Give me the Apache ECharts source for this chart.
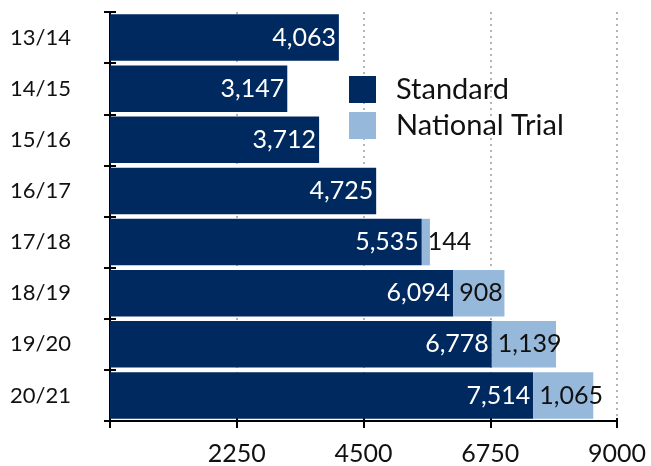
<!DOCTYPE html>
<html><head><meta charset="utf-8">
<script src="https://cdn.jsdelivr.net/npm/echarts@6/dist/echarts.min.js"></script>
<style>html,body{margin:0;padding:0;background:#fff}#c{width:651px;height:466px}</style>
</head><body><div id="c"></div>
<script>
const categories = ['13/14','14/15','15/16','16/17','17/18','18/19','19/20','20/21'];
const standard = [4063, 3147, 3712, 4725, 5535, 6094, 6778, 7514];
const nationalTrial = [null, null, null, null, 144, 908, 1139, 1065];
const xTicks = [2250, 4500, 6750, 9000];

const FONT = 'Lato, "Noto Sans", sans-serif';
const W = 400;
const DARK = '#002a5f';
const LIGHT = '#95b8db';
const fmt = v => v.toLocaleString('en-US');

const chart = echarts.init(document.getElementById('c'));
chart.setOption({
  animation: false,
  backgroundColor: '#fff',
  grid: { left: 110, right: 34, top: 12, bottom: 44, containLabel: false },
  legend: {
    orient: 'vertical', left: 349, top: 75, padding: 0,
    icon: 'rect',
    itemWidth: 27, itemHeight: 27, itemGap: 7,
    textStyle: { fontFamily: FONT, fontWeight: W, fontSize: 29, lineHeight: 27, color: '#111', padding: [0,0,0,15] },
    data: ['Standard', 'National Trial']
  },
  xAxis: [{
    type: 'value', min: 0, max: 9000, interval: xTicks[0],
    axisLine: { show: true, lineStyle: { color: '#000', width: 2 } },
    axisTick: { show: true, length: 7, lineStyle: { color: '#000', width: 2 } },
    axisLabel: { fontFamily: FONT, fontWeight: W, fontSize: 25, color: '#111', margin: 20,
      formatter: v => xTicks.includes(v) ? String(v) : '' },
    splitLine: { show: true, lineStyle: { color: '#b5b5b5', type: [2, 4], width: 2 } }
  }, {
    type: 'value', min: 0, max: 9000, interval: xTicks[0], position: 'bottom',
    axisLine: { show: false },
    axisTick: { show: true, inside: true, length: 3, lineStyle: { color: '#000', width: 2 } },
    axisLabel: { show: false }, splitLine: { show: false }
  }],
  yAxis: [{
    type: 'category', data: categories, inverse: true,
    axisLine: { show: true, lineStyle: { color: '#000', width: 2 } },
    axisTick: { show: true, length: 6, lineStyle: { color: '#000', width: 2 } },
    axisLabel: { fontFamily: FONT, fontWeight: W, fontSize: 22, color: '#111', margin: 39 },
  }, {
    type: 'category', data: categories, inverse: true, position: 'left',
    axisLine: { show: false },
    axisTick: { show: true, inside: true, length: 6, lineStyle: { color: '#000', width: 2 } },
    axisLabel: { show: false }
  }],
  series: [{
    name: 'Standard', type: 'bar', stack: 'total', data: standard,
    barCategoryGap: '9%',
    itemStyle: { color: DARK },
    label: { show: true, position: 'insideRight', distance: 3, color: '#fff',
      fontFamily: FONT, fontWeight: W, fontSize: 25, formatter: p => fmt(p.value) }
  }, {
    name: 'National Trial', type: 'bar', stack: 'total', data: nationalTrial,
    itemStyle: { color: LIGHT },
    label: { show: true, position: 'insideLeft', distance: 6, color: '#111',
      fontFamily: FONT, fontWeight: W, fontSize: 25,
      formatter: p => p.value == null ? '' : fmt(p.value) }
  }]
});
</script></body></html>
